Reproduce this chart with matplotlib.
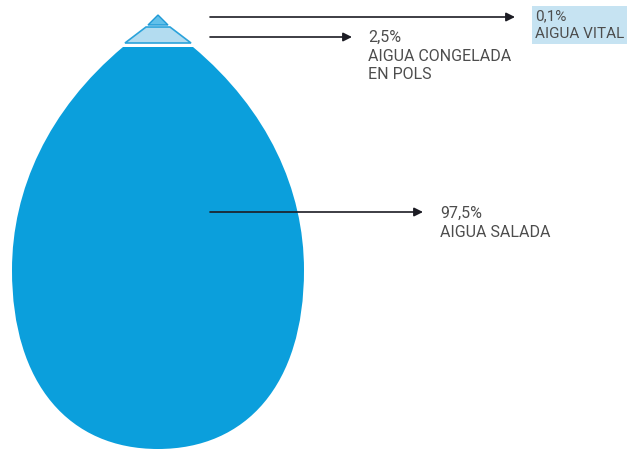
import matplotlib
matplotlib.use('Agg')
import matplotlib.pyplot as plt
from matplotlib.path import Path
from matplotlib.patches import PathPatch, Polygon

# data
shares = ['0,1%', '2,5%', '97,5%']
names = ['AIGUA VITAL', 'AIGUA CONGELADA\nEN POLS', 'AIGUA SALADA']

plt.rcParams['font.family'] = ['Roboto', 'Liberation Sans', 'DejaVu Sans']

def main():
    fig = plt.figure(figsize=(6.28, 4.5), dpi=100, facecolor='white')
    ax = fig.add_axes([0, 0, 1, 1])
    ax.set_xlim(0, 628)
    ax.set_ylim(450, 0)
    ax.axis('off')

    cx = 158
    # drop body (salt water)
    verts = [
        (cx + 35, 47),
        (cx + 110, 110), (cx + 146, 190), (cx + 146, 270),
        (cx + 146, 385), (cx + 88, 449), (cx, 449),
        (cx - 88, 449), (cx - 146, 385), (cx - 146, 270),
        (cx - 146, 190), (cx - 110, 110), (cx - 35, 47),
        (cx + 35, 47),
    ]
    codes = [Path.MOVETO] + [Path.CURVE4] * 12 + [Path.CLOSEPOLY]
    ax.add_patch(PathPatch(Path(verts, codes), facecolor='#0b9fdc', edgecolor='none'))

    # frozen band
    ax.add_patch(Polygon([(cx - 12, 27), (cx + 12, 27), (cx + 33, 43), (cx - 33, 43)],
                         closed=True, facecolor='#b3dcf0', edgecolor='#2ba3db', lw=1.2))
    # fresh water tip
    ax.add_patch(Polygon([(cx, 15), (cx + 10, 25), (cx - 10, 25)],
                         closed=True, facecolor='#62c0ea', edgecolor='#1f9ad6', lw=1.0))

    arrows = [(17, 515), (37, 352), (212, 423)]
    text_y = [9, 30, 206]
    text_x = [535, 368, 440]
    for i in range(3):
        y, xe = arrows[i]
        ax.annotate('', xy=(xe, y), xytext=(210, y),
                    arrowprops=dict(arrowstyle='-|>', color='#1c1c24', lw=1.2,
                                    mutation_scale=13, shrinkA=0, shrinkB=0))
        txt = shares[i] + '\n' + names[i]
        if i == 0:
            ax.text(text_x[i], text_y[i], txt, fontsize=11, color='#4d4d4d',
                    va='top', ha='left', linespacing=1.35,
                    bbox=dict(boxstyle='square,pad=0.2', facecolor='#c6e3f2', edgecolor='none'))
        else:
            ax.text(text_x[i], text_y[i], txt, fontsize=11.5, color='#4d4d4d',
                    va='top', ha='left', linespacing=1.3)

    fig.savefig('out.png', dpi=100, facecolor='white')

if __name__ == '__main__':
    main()
